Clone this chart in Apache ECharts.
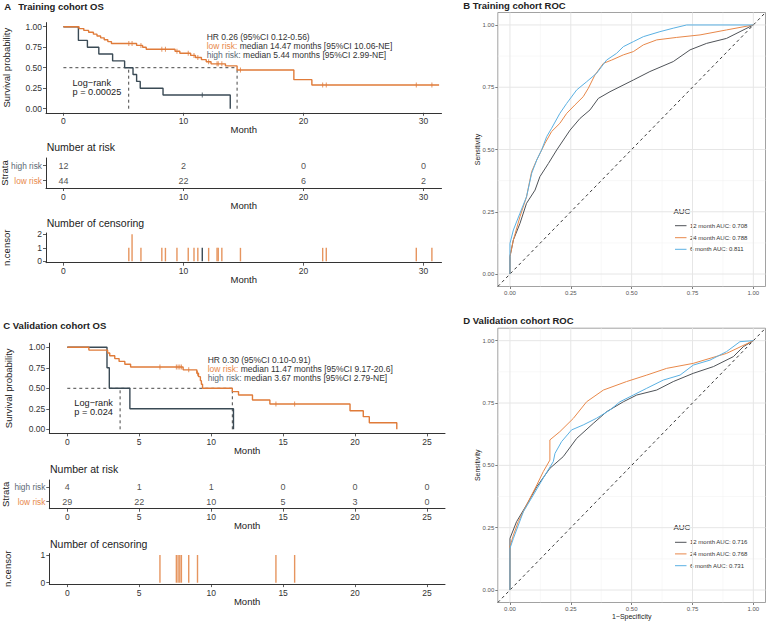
<!DOCTYPE html>
<html><head><meta charset="utf-8">
<script src="https://cdn.jsdelivr.net/npm/echarts@6/dist/echarts.min.js"></script>
<style>html,body{margin:0;padding:0;background:#fff}#c{width:766px;height:621px}</style>
</head><body><div id="c"></div>
<script>
const FONT = '"Liberation Sans", Arial, Helvetica, sans-serif';
const C_HIGH = '#3A4A55';
const C_LOW = '#E07B39';
const C_LOW_BAR = '#E6955F';
const C_R12 = '#4F5358';
const C_R24 = '#E8884A';
const C_R6 = '#5BB1E3';

// ---------- Training cohort KM (time, survival after step) ----------
const trainLow = [[0,1.0],[1.3,0.977],[1.7,0.955],[2.1,0.932],[2.5,0.909],[2.8,0.886],[3.1,0.864],[3.4,0.841],[3.7,0.818],[4.0,0.795],[6.1,0.772],[6.6,0.749],[6.9,0.725],[9.3,0.700],[9.7,0.676],[10.6,0.650],[11.0,0.624],[11.5,0.598],[11.9,0.572],[12.3,0.547],[13.5,0.522],[14.47,0.472],[19.2,0.354],[20.7,0.289],[31.3,0.289]];
const trainHigh = [[0,1.0],[1.25,0.833],[2.0,0.75],[2.95,0.667],[4.1,0.583],[5.1,0.5],[5.8,0.417],[6.1,0.333],[6.4,0.25],[8.3,0.167],[13.9,0]];
const trainCensLow = [[5.45,1],[5.72,2],[6.46,1],[8.2,1],[8.5,1],[9.46,1],[10.4,1],[10.88,1],[11.2,1],[12.1,1],[12.8,1],[12.9,1],[13.2,1],[14.75,1],[21.6,1],[21.9,1],[29.4,1],[30.7,1]];
const trainCensHigh = [[11.57,1]];
const trainMedians = {low:14.47, high:5.44};
const trainRiskTimes = [0,10,20,30];
const trainRiskHigh = [12,2,0,0];
const trainRiskLow = [44,22,6,2];
const trainTicks = [0,10,20,30];

// ---------- Validation cohort KM ----------
const valLow = [[0,1.0],[1.5,0.966],[2.8,0.931],[2.95,0.897],[3.3,0.862],[3.6,0.828],[4.0,0.793],[4.4,0.759],[8.05,0.725],[9.0,0.683],[9.12,0.642],[9.25,0.593],[9.32,0.55],[9.4,0.5],[11.47,0.46],[11.9,0.418],[12.87,0.357],[14.08,0.308],[19.65,0.227],[20.57,0.154],[20.99,0.08],[22.9,0]];
const valHigh = [[0,1.0],[2.76,0.75],[2.92,0.5],[4.35,0.25],[11.55,0]];
const valCensLow = [[6.44,1],[7.58,1],[7.7,1],[7.82,1],[7.93,1],[8.44,1],[9.05,1],[14.5,1],[15.8,1]];
const valCensHigh = [];
const valMedians = {low:11.47, high:3.67};
const valRiskTimes = [0,5,10,15,20,25];
const valRiskHigh = [4,1,1,0,0,0];
const valRiskLow = [29,22,10,5,3,0];
const valTicks = [0,5,10,15,20,25];

// ---------- ROC curves [1-specificity, sensitivity] ----------
const rocB12 = [[0,0],[0,0.07],[0.014,0.137],[0.041,0.203],[0.068,0.284],[0.103,0.337],[0.123,0.391],[0.158,0.444],[0.192,0.498],[0.247,0.578],[0.288,0.625],[0.329,0.659],[0.363,0.705],[0.411,0.732],[0.507,0.779],[0.575,0.813],[0.671,0.853],[0.74,0.9],[0.808,0.926],[0.89,0.946],[1,1]];
const rocB24 = [[0,0],[0,0.07],[0.014,0.137],[0.041,0.23],[0.068,0.31],[0.089,0.411],[0.11,0.458],[0.144,0.525],[0.171,0.572],[0.205,0.605],[0.233,0.645],[0.267,0.679],[0.301,0.712],[0.322,0.746],[0.349,0.799],[0.384,0.846],[0.418,0.859],[0.466,0.88],[0.507,0.893],[0.548,0.92],[0.603,0.94],[0.685,0.95],[0.781,0.96],[0.89,0.98],[1,1]];
const rocB6 = [[0,0],[0,0.123],[0.014,0.177],[0.041,0.244],[0.068,0.31],[0.089,0.404],[0.11,0.458],[0.13,0.498],[0.151,0.552],[0.171,0.585],[0.205,0.645],[0.233,0.685],[0.274,0.739],[0.315,0.772],[0.356,0.806],[0.397,0.859],[0.438,0.886],[0.466,0.913],[0.507,0.933],[0.548,0.953],[0.616,0.973],[0.671,0.987],[0.726,1.0],[1,1]];
const rocD12 = [[0,0],[0,0.207],[0.027,0.274],[0.068,0.341],[0.11,0.414],[0.164,0.488],[0.219,0.535],[0.274,0.608],[0.342,0.668],[0.397,0.715],[0.466,0.755],[0.521,0.782],[0.603,0.802],[0.671,0.836],[0.753,0.869],[0.836,0.896],[0.918,0.936],[0.959,0.976],[1,1]];
const rocD24 = [[0,0],[0,0.174],[0.014,0.22],[0.034,0.274],[0.068,0.341],[0.11,0.421],[0.137,0.475],[0.164,0.521],[0.164,0.602],[0.205,0.635],[0.26,0.688],[0.315,0.755],[0.384,0.802],[0.479,0.836],[0.562,0.862],[0.644,0.889],[0.753,0.909],[0.89,0.949],[1,1]];
const rocD6 = [[0,0],[0,0.167],[0.014,0.207],[0.055,0.314],[0.096,0.381],[0.144,0.461],[0.178,0.515],[0.185,0.548],[0.212,0.595],[0.253,0.642],[0.301,0.662],[0.356,0.689],[0.411,0.722],[0.452,0.755],[0.507,0.782],[0.562,0.809],[0.63,0.842],[0.699,0.862],[0.753,0.902],[0.822,0.922],[0.89,0.956],[0.945,0.996],[1,1]];
const rocNamesB = ['12 month AUC: 0.708','24 month AUC: 0.788','6 month AUC: 0.811'];
const rocNamesD = ['12 month AUC: 0.716','24 month AUC: 0.768','6 month AUC: 0.731'];
const rocTicks = [0,0.25,0.5,0.75,1];
const rocMinor = [0.125,0.375,0.625,0.875];
const rocRange = [-0.05,1.05];
const survTicks = [0,0.25,0.5,0.75,1];

function survAt(steps, t){ let s = steps[0][1]; for (const p of steps) if (p[0] <= t) s = p[1]; return s; }

function kmX(g, min, max, ticks){
  return {type:'value', gridIndex:g, min, max, name:'Month', nameLocation:'middle', nameGap:12, nameMoveOverlap:false,
    nameTextStyle:{fontSize:9.5,color:'#222',fontFamily:FONT},
    axisLine:{show:true,onZero:false,lineStyle:{color:'#333',width:1}},
    axisTick:{show:true,length:3,customValues:ticks,lineStyle:{color:'#333',width:0.8}},
    axisLabel:{customValues:ticks,fontSize:8.5,color:'#333',margin:4,fontFamily:FONT},
    splitLine:{show:false}};
}
function valY(g, name, min, max, ticks, fmt, gap){
  return {type:'value', gridIndex:g, min, max, name, nameLocation:'middle', nameGap:gap, nameRotate:90, nameMoveOverlap:false,
    nameTextStyle:{fontSize:9.5,color:'#222',fontFamily:FONT},
    axisLine:{show:true,onZero:false,lineStyle:{color:'#333',width:1}},
    axisTick:{show:true,length:3,customValues:ticks,lineStyle:{color:'#333',width:0.8}},
    axisLabel:{customValues:ticks,fontSize:8.5,color:'#333',margin:4,fontFamily:FONT,formatter:fmt},
    splitLine:{show:false}};
}
function catY(g, gap){
  return {type:'category', gridIndex:g, data:['low risk','high risk'], name:'Strata', nameLocation:'middle', nameGap:gap, nameRotate:90, nameMoveOverlap:false,
    nameTextStyle:{fontSize:9.5,color:'#222',fontFamily:FONT},
    axisLine:{show:true,onZero:false,lineStyle:{color:'#333',width:1}},
    axisTick:{show:true,length:3,alignWithLabel:true,lineStyle:{color:'#333',width:0.8}},
    axisLabel:{fontSize:8.3,margin:4,fontFamily:FONT,color:(v)=> v==='high risk' ? '#5A6873' : '#E8884A'},
    splitLine:{show:false}};
}
function rocX(g, name){
  return {type:'value', gridIndex:g, min:rocRange[0], max:rocRange[1], name, nameLocation:'middle', nameGap:10.5, nameMoveOverlap:false,
    nameTextStyle:{fontSize:7,color:'#222',fontFamily:FONT},
    axisLine:{show:false,onZero:false},
    axisTick:{show:true,length:2.5,customValues:rocTicks,lineStyle:{color:'#444',width:0.7}},
    axisLabel:{customValues:rocTicks,fontSize:6,color:'#555',margin:3.5,fontFamily:FONT,formatter:v=>v.toFixed(2)},
    splitLine:{show:false}};
}
function rocY(g){
  return {type:'value', gridIndex:g, min:rocRange[0], max:rocRange[1], name:'Sensitivity', nameLocation:'middle', nameGap:17, nameRotate:90, nameMoveOverlap:false,
    nameTextStyle:{fontSize:7,color:'#222',fontFamily:FONT},
    axisLine:{show:false,onZero:false},
    axisTick:{show:true,length:2.5,customValues:rocTicks,lineStyle:{color:'#444',width:0.7}},
    axisLabel:{customValues:rocTicks,fontSize:6,color:'#555',margin:3.5,fontFamily:FONT,formatter:v=>v.toFixed(2)},
    splitLine:{show:false}};
}

const grids = [
  {left:46, top:22.6, width:395.5, height:90.2},
  {left:46, top:158, width:395.5, height:30},
  {left:46, top:233, width:395.5, height:29.7},
  {left:49.3, top:343.2, width:395.7, height:90.2},
  {left:49.3, top:480, width:395.7, height:28.7},
  {left:49.3, top:553.6, width:395.7, height:30.5},
  {left:497.8, top:12.5, width:267.7, height:274, show:true, borderColor:'#8a8a8a', borderWidth:0.8},
  {left:497.8, top:328.2, width:267.7, height:274.3, show:true, borderColor:'#8a8a8a', borderWidth:0.8}
].map(g => Object.assign({outerBoundsMode:'none', containLabel:false}, g));

const xAxes = [
  kmX(0,-1.45,31.5,trainTicks), kmX(1,-1.45,31.5,trainTicks), kmX(2,-1.45,31.5,trainTicks),
  kmX(3,-1.25,26.25,valTicks), kmX(4,-1.25,26.25,valTicks), kmX(5,-1.25,26.25,valTicks),
  rocX(6,''), rocX(7,'1\u2212Specificity')
];
const yAxes = [
  valY(0,'Survival probability',-0.05,1.05,survTicks,v=>v.toFixed(2),35),
  catY(1,36.5),
  valY(2,'n.censor',-0.1,2.1,[0,1,2],v=>String(v),35),
  valY(3,'Survival probability',-0.05,1.05,survTicks,v=>v.toFixed(2),36),
  catY(4,38.5),
  valY(5,'n.censor',-0.05,1.05,[0,1],v=>String(v),37),
  rocY(6), rocY(7)
];

const series = [];
function kmSeries(xi, steps, cens, color){
  series.push({type:'line', xAxisIndex:xi, yAxisIndex:xi, data:steps, step:'end', symbol:'none', z:4,
    lineStyle:{color, width:1.4}, itemStyle:{color}});
  series.push({type:'scatter', xAxisIndex:xi, yAxisIndex:xi, data:cens.map(c=>[c[0], survAt(steps,c[0])]), z:5,
    symbol:'rect', symbolSize:[1,5], itemStyle:{color}});
}
function medianLines(xi, med){
  const ls = {color:'#333', width:0.9, type:[3,3]};
  series.push({type:'line', xAxisIndex:xi, yAxisIndex:xi, data:[[0,0.5],[Math.max(med.low,med.high),0.5]], symbol:'none', lineStyle:ls, z:3});
  series.push({type:'line', xAxisIndex:xi, yAxisIndex:xi, data:[[med.low,0],[med.low,0.5]], symbol:'none', lineStyle:ls, z:3});
  series.push({type:'line', xAxisIndex:xi, yAxisIndex:xi, data:[[med.high,0],[med.high,0.5]], symbol:'none', lineStyle:ls, z:3});
}
function riskSeries(xi, times, high, low){
  const lab = {show:true, position:'inside', formatter:p=>String(p.value[2]), color:'#222', fontSize:9, fontFamily:FONT};
  series.push({type:'scatter', xAxisIndex:xi, yAxisIndex:xi, symbolSize:1, itemStyle:{color:'rgba(0,0,0,0)'},
    data:times.map((t,i)=>[t,'high risk',high[i]]), label:lab});
  series.push({type:'scatter', xAxisIndex:xi, yAxisIndex:xi, symbolSize:1, itemStyle:{color:'rgba(0,0,0,0)'},
    data:times.map((t,i)=>[t,'low risk',low[i]]), label:lab});
}
function censBars(xi, low, high){
  series.push({type:'bar', xAxisIndex:xi, yAxisIndex:xi, data:low, barWidth:1.4, barGap:'-100%', itemStyle:{color:C_LOW_BAR}});
  series.push({type:'bar', xAxisIndex:xi, yAxisIndex:xi, data:high, barWidth:1.4, barGap:'-100%', itemStyle:{color:C_HIGH}});
}
function gridLine(xi, v, vertical, color, width){
  const d = vertical ? [[v,rocRange[0]],[v,rocRange[1]]] : [[rocRange[0],v],[rocRange[1],v]];
  series.push({type:'line', xAxisIndex:xi, yAxisIndex:xi, data:d, symbol:'none', silent:true, z:1,
    lineStyle:{color, width, type:'solid'}});
}
function rocPanel(xi, curves, names){
  rocMinor.forEach(v=>{ gridLine(xi, v, true, '#F3F3F3', 0.6); gridLine(xi, v, false, '#F3F3F3', 0.6); });
  rocTicks.forEach(v=>{ gridLine(xi, v, true, '#E6E6E6', 1); gridLine(xi, v, false, '#E6E6E6', 1); });
  series.push({type:'line', xAxisIndex:xi, yAxisIndex:xi, data:[[rocRange[0],rocRange[0]],[rocRange[1],rocRange[1]]], symbol:'none', z:3,
    lineStyle:{color:'#222', width:0.9, type:[3,3]}});
  const cols = [C_R12, C_R24, C_R6];
  curves.forEach((c,i)=>{
    series.push({type:'line', name:names[i], xAxisIndex:xi, yAxisIndex:xi, data:c, symbol:'none', z:4,
      lineStyle:{color:cols[i], width:1}, itemStyle:{color:cols[i]}});
  });
}

kmSeries(0, trainHigh, trainCensHigh, C_HIGH);
kmSeries(0, trainLow, trainCensLow, C_LOW);
medianLines(0, trainMedians);
riskSeries(1, trainRiskTimes, trainRiskHigh, trainRiskLow);
censBars(2, trainCensLow, trainCensHigh);
kmSeries(3, valHigh, valCensHigh, C_HIGH);
kmSeries(3, valLow, valCensLow, C_LOW);
medianLines(3, valMedians);
riskSeries(4, valRiskTimes, valRiskHigh, valRiskLow);
censBars(5, valCensLow, valCensHigh);
rocPanel(6, [rocB12, rocB24, rocB6], rocNamesB);
rocPanel(7, [rocD12, rocD24, rocD6], rocNamesD);

function T(text, x, y, size, opts){
  opts = opts || {};
  return {type:'text', x, y, style:{text, font:(opts.bold?'bold ':'')+size+'px '+FONT, fill:opts.fill||'#222', textVerticalAlign:'middle', textAlign:'left'}};
}
function richText(label, labelColor, rest, x, y){
  return {type:'text', x, y, style:{text:'{a|'+label+'}{b|'+rest+'}', font:'8.5px '+FONT, fill:'#333', textVerticalAlign:'middle',
    rich:{a:{fill:labelColor, fontFamily:FONT, fontSize:8.5}, b:{fill:'#333', fontFamily:FONT, fontSize:8.5}}}};
}
function legendBlock(names, x, yTitle, ys){
  const cols = [C_R12, C_R24, C_R6];
  const out = [T('AUC', x, yTitle, 8)];
  names.forEach((n,i)=>{
    out.push({type:'line', shape:{x1:x+1.5, y1:ys[i], x2:x+13, y2:ys[i]}, style:{stroke:cols[i], lineWidth:1}});
    out.push(T(n, x+16.5, ys[i], 6, {fill:'#333'}));
  });
  return out;
}
const graphics = [
  T('A', 4.3, 6, 9.5, {bold:true}), T('Training cohort OS', 18.3, 6, 9.5, {bold:true}),
  T('B Training cohort ROC', 463.3, 5.5, 9.5, {bold:true}),
  T('C Validation cohort OS', 3.3, 325, 9.5, {bold:true}),
  T('D Validation cohort ROC', 463.3, 320.5, 9.5, {bold:true}),
  T('Number at risk', 46.7, 147, 10.5), T('Number of censoring', 46.7, 223.3, 10.5),
  T('Number at risk', 50, 469, 10.5), T('Number of censoring', 50, 544, 10.5),
  T('HR 0.26 (95%CI 0.12-0.56)', 206.7, 36.8, 8.5, {fill:'#333'}),
  richText('low risk:', '#E8884A', ' median 14.47 months [95%CI 10.06-NE]', 206.7, 45.6),
  richText('high risk:', '#5A6873', ' median 5.44 months [95%CI 2.99-NE]', 206.7, 54.5),
  T('Log\u2212rank', 72.5, 83, 9.2), T('p = 0.00025', 72.5, 91.8, 9.2),
  T('HR 0.30 (95%CI 0.10-0.91)', 207.7, 360, 8.5, {fill:'#333'}),
  richText('low risk:', '#E8884A', ' median 11.47 months [95%CI 9.17-20.6]', 207.7, 368.6),
  richText('high risk:', '#5A6873', ' median 3.67 months [95%CI 2.79-NE]', 207.7, 377.6),
  T('Log\u2212rank', 74.3, 403, 9.2), T('p = 0.024', 74.3, 412, 9.2)
].concat(legendBlock(rocNamesB, 673.5, 211, [225.7, 237.7, 249.3]))
 .concat(legendBlock(rocNamesD, 673.5, 527.7, [542.3, 553.9, 565.7]));

const chart = echarts.init(document.getElementById('c'), null, {renderer:'svg', width:766, height:621});
chart.setOption({
  animation:false,
  backgroundColor:'#fff',
  textStyle:{fontFamily:FONT},
  grid:grids, xAxis:xAxes, yAxis:yAxes, series,
  graphic:graphics
});
</script></body></html>
